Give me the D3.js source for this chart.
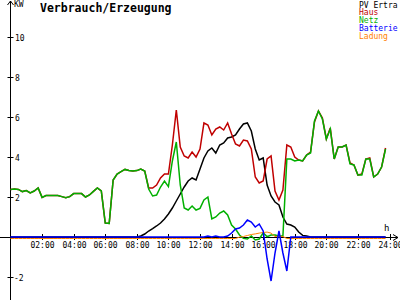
<!DOCTYPE html>
<html>
<head>
<meta charset="utf-8">
<script src="https://cdn.jsdelivr.net/npm/d3@7"></script>
<style>
    body { margin: 0; background: #fff; }
    svg text { font-family: "DejaVu Sans Mono", monospace; }
</style>
</head>
<body>
<div id="chart"></div>
<script>
// 15 minute steps, 00:00 .. 23:45
let hours = d3.range(0, 24, 0.25);

let pvErtrag = [
    0, 0, 0, 0, 0, 0, 0, 0, 0, 0, 0, 0, 0, 0, 0, 0,
    0, 0, 0, 0, 0, 0, 0, 0, 0, 0, 0, 0, 0, 0, 0, 0,
    0, 0.05, 0.15, 0.3, 0.42, 0.55, 0.7, 0.9, 1.15, 1.45, 1.8, 2.15, 2.5, 2.8, 2.95, 2.85,
    3.4, 3.95, 4.3, 4.45, 4.2, 4.6, 4.7, 4.95, 5.0, 5.1, 5.4, 5.65, 5.7, 5.3, 4.4, 3.85,
    3.95, 2.6, 2.05, 1.75, 1.6, 1.0, 0.65, 0.6, 0.5, 0.25, 0.08, 0.05, 0, 0, 0, 0,
    0, 0, 0, 0, 0, 0, 0, 0, 0, 0, 0, 0, 0, 0, 0, 0
];
let haus = [
    2.38, 2.4, 2.38, 2.27, 2.32, 2.2, 2.3, 2.45, 1.98, 2.07, 2.08, 2.07, 2.07, 2.02, 1.96, 2.02,
    2.17, 2.18, 2.17, 2.0, 2.1, 2.28, 2.45, 2.3, 0.7, 0.68, 2.85, 3.15, 3.27, 3.38, 3.33, 3.3,
    3.32, 3.4, 3.3, 2.45, 2.45, 2.6, 2.95, 3.15, 3.15, 4.6, 6.35, 4.5, 4.05, 3.95, 4.25, 4.0,
    4.4, 5.7, 5.6, 5.1, 5.4, 5.5, 5.35, 5.7, 5.15, 4.65, 4.55, 4.85, 4.8, 4.4, 3.0, 2.7,
    2.8, 3.9, 4.05, 2.3, 1.85, 2.35, 4.6, 4.5, 4.0, 3.85, 3.8, 4.1, 4.25, 5.75, 6.3, 5.95,
    4.9, 5.45, 3.9, 4.5, 4.5, 4.6, 3.7, 3.6, 3.1, 3.15, 3.9, 3.95, 3.0, 3.15, 3.5, 4.45
];
let netz = [
    2.38, 2.4, 2.38, 2.27, 2.32, 2.2, 2.3, 2.45, 1.98, 2.07, 2.08, 2.07, 2.07, 2.02, 1.96, 2.02,
    2.17, 2.18, 2.17, 2.0, 2.1, 2.28, 2.45, 2.3, 0.7, 0.68, 2.85, 3.15, 3.27, 3.38, 3.33, 3.3,
    3.32, 3.4, 3.3, 2.4, 2.05, 2.1, 2.5, 2.8, 2.52, 3.8, 4.75, 2.6, 1.45, 1.35, 1.55, 1.35,
    1.43, 1.85, 2.0, 0.9, 1.0, 1.2, 1.3, 1.1, 0.6, 0.4, 0.1, -0.07, -0.1, 0.05, -0.15, -0.1,
    0.2, 0.02, 0.1, 0.1, 0.05, 0.05, 3.9, 3.9, 3.8, 3.85, 3.8, 4.1, 4.2, 5.8, 6.3, 5.9,
    4.9, 5.4, 3.9, 4.5, 4.5, 4.6, 3.65, 3.6, 3.1, 3.1, 3.9, 3.9, 3.0, 3.15, 3.5, 4.4
];
let batterie = [
    0, 0, 0, 0, 0, 0, 0, 0, 0, 0, 0, 0, 0, 0, 0, 0,
    0, 0, 0, 0, 0, 0, 0, 0, 0, 0, 0, 0, 0, 0, 0, 0,
    0, 0, 0, 0, 0, 0, 0, 0, 0, 0, 0, 0, 0, 0, 0, 0,
    0, 0, 0.05, 0, 0.05, 0, 0, 0.05, 0.2, 0.4, 0.45, 0.6, 0.85, 0.75, 0.5, 0.65,
    0.3, -1.1, -2.2, -0.8, 0.3, -0.8, -1.7, 0, 0, 0, 0, 0, 0, 0, 0, 0,
    0, 0, 0, 0, 0, 0, 0, 0, 0, 0, 0, 0, 0, 0, 0, 0
];
let ladung = [
    0, 0, 0, 0, 0, 0, 0, 0, 0, 0, 0, 0, 0, 0, 0, 0,
    0, 0, 0, 0, 0, 0, 0, 0, 0, 0, 0, 0, 0, 0, 0, 0,
    0, 0, 0, 0, 0, 0, 0, 0, 0, 0, 0, 0, 0, 0, 0, 0,
    0, 0, 0, 0, 0, 0, 0, 0, 0, 0, 0.07, 0.1, 0.15, 0.2, 0.23, 0.27,
    0.3, 0.32, 0.27, 0.1, 0.12, 0.1, 0, 0, 0, 0, 0, 0, 0, 0, 0, 0,
    0, 0, 0, 0, 0, 0, 0, 0, 0, 0, 0, 0, 0, 0, 0, 0
];

let yTicks = [10, 8, 6, 4, 2, -2];
let xTicks = [2, 4, 6, 8, 10, 12, 14, 16, 18, 20, 22, 24];

let series = [
    {name: "PV Ertra", values: pvErtrag, color: "#000000"},
    {name: "Haus", values: haus, color: "#c00000"},
    {name: "Netz", values: netz, color: "#00b000"},
    {name: "Ladung", values: ladung, color: "#ff8000"},
    {name: "Batterie", values: batterie, color: "#0000ff"}
];
let legendOrder = ["PV Ertra", "Haus", "Netz", "Batterie", "Ladung"];

let width = 400, height = 300;
let svg = d3.select("#chart").append("svg")
    .attr("width", width)
    .attr("height", height);

let xScale = d3.scaleLinear().domain([0, 24]).range([10.5, 389.5]);
let yScale = d3.scaleLinear().domain([-3, 11]).range([297, 17]);
let y0 = yScale(0);

// axes
svg.append("line")
    .attr("x1", 0).attr("x2", 398)
    .attr("y1", 237.5).attr("y2", 237.5)
    .attr("stroke", "#000");
svg.append("path")
    .attr("d", "M393,234.5L398,237.5L393,240.5")
    .attr("fill", "none").attr("stroke", "#000");
svg.append("line")
    .attr("x1", xScale(0)).attr("x2", xScale(0))
    .attr("y1", 1).attr("y2", height)
    .attr("stroke", "#000");
svg.append("path")
    .attr("d", `M${xScale(0) - 3},5L${xScale(0)},1L${xScale(0) + 3},5`)
    .attr("fill", "none").attr("stroke", "#000");

let xt = svg.append("g").selectAll("g.xt")
    .data(xTicks).enter().append("g")
    .attr("transform", d => `translate(${Math.round(xScale(d)) + 0.5},0)`);
xt.append("line")
    .attr("y1", 234).attr("y2", 240)
    .attr("stroke", "#000");
xt.append("text")
    .attr("y", 247.5)
    .attr("text-anchor", "middle")
    .attr("font-size", "8px")
    .text(d => d3.format("02")(d) + ":00");

let yt = svg.append("g").selectAll("g.yt")
    .data(yTicks).enter().append("g")
    .attr("transform", d => `translate(0,${Math.round(yScale(d)) + 0.5})`);
yt.append("line")
    .attr("x1", xScale(0) - 3).attr("x2", xScale(0) + 3)
    .attr("stroke", "#000");
yt.append("text")
    .attr("x", d => d < 0 ? 14 : 15)
    .attr("y", 3)
    .attr("font-size", "8px")
    .text(d => d);

svg.append("text").attr("x", 14).attr("y", 7).attr("font-size", "8px").text("KW");
svg.append("text").attr("x", 384).attr("y", 231).attr("font-size", "9px").text("h");

// lines
let line = d3.line()
    .x((d, i) => xScale(hours[i]))
    .y(d => yScale(d));

svg.append("g").selectAll("path.series")
    .data(series).enter().append("path")
    .attr("class", "series")
    .attr("d", d => line(d.values))
    .attr("transform", d => d.name === "Ladung" ? "translate(0,1.5)" : null)
    .attr("fill", "none")
    .attr("stroke", d => d.color)
    .attr("stroke-width", d => d.name === "Ladung" ? 1 : 1.5);

// title + legend
svg.append("text")
    .attr("x", 40).attr("y", 11.5)
    .attr("font-size", "11.5px")
    .attr("font-weight", "bold")
    .text("Verbrauch/Erzeugung");

svg.append("g").selectAll("text.legend")
    .data(legendOrder).enter().append("text")
    .attr("x", 359)
    .attr("y", (d, i) => 7.5 + i * 7.75)
    .attr("font-size", "8px")
    .attr("fill", d => series.find(s => s.name === d).color)
    .text(d => d);
</script>
</body>
</html>
